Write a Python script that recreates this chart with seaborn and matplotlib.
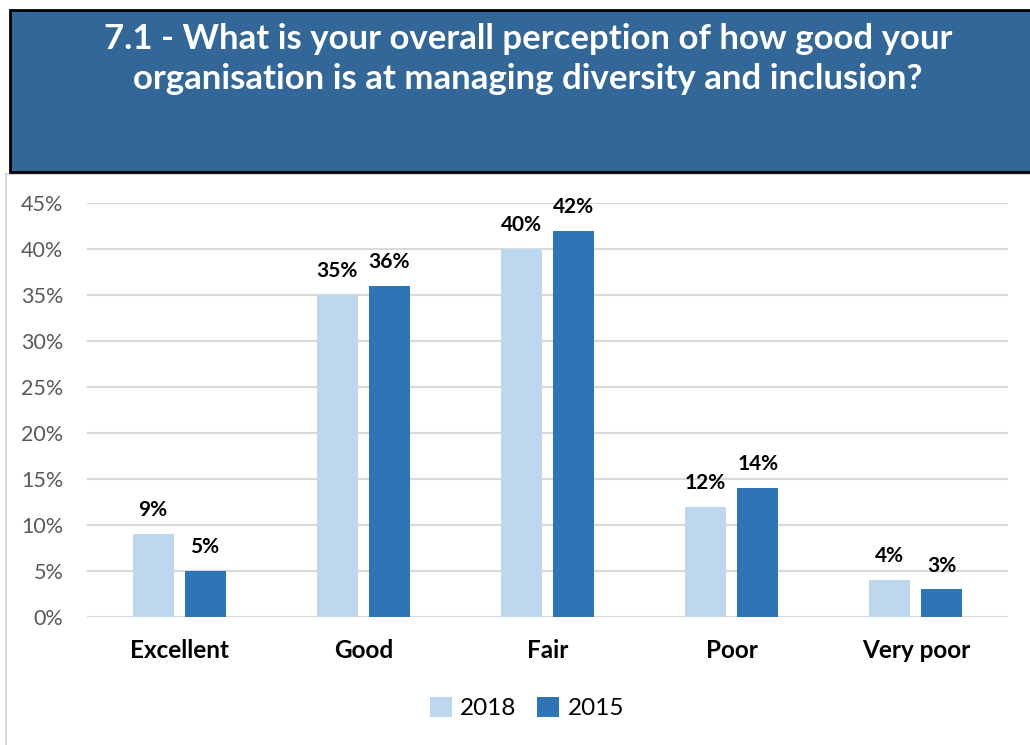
import matplotlib
matplotlib.use("Agg")
import matplotlib.pyplot as plt
import matplotlib.patches as mpatches
import seaborn as sns
import pandas as pd

categories = ["Excellent", "Good", "Fair", "Poor", "Very poor"]
years = ["2018", "2015"]
values_2018 = [9, 35, 40, 12, 4]
values_2015 = [5, 36, 42, 14, 3]
y_ticks = [0, 5, 10, 15, 20, 25, 30, 35, 40, 45]
title_text = ("7.1 - What is your overall perception of how good your\n"
              "organisation is at managing diversity and inclusion?")

df = pd.DataFrame({
    "category": categories * 2,
    "year": [years[0]] * len(categories) + [years[1]] * len(categories),
    "value": values_2018 + values_2015,
})

sns.set_theme(style="white")
plt.rcParams["font.family"] = ["Lato", "DejaVu Sans"]

W, H = 1030, 745
fig = plt.figure(figsize=(W / 100, H / 100), dpi=100)

# outer chart frame
fig.patches.append(mpatches.Rectangle((6 / W, -0.05), 1.1, (H - 174) / H + 0.05,
                                      transform=fig.transFigure, facecolor="white",
                                      edgecolor="#D9D9D9", linewidth=1.5, zorder=0))
# title banner
fig.patches.append(mpatches.Rectangle((10 / W, (H - 172) / H), 1.1, 162 / H,
                                      transform=fig.transFigure, facecolor="#336797",
                                      edgecolor="black", linewidth=2, zorder=1))
fig.text(528 / W, (H - 59) / H, title_text, ha="center", va="center", color="white",
         fontsize=25, fontweight="bold", linespacing=1.3)

ax = fig.add_axes([87 / W, (H - 617) / H, 921 / W, 414 / H])
ax.set_zorder(5)
palette = {"2018": "#BDD7EE", "2015": "#2E75B6"}
sns.barplot(data=df, x="category", y="value", hue="year", order=categories,
            hue_order=years, palette=palette, width=0.565, gap=0.21,
            saturation=1, linewidth=0, edgecolor="none", ax=ax, zorder=3)

for c in ax.containers:
    ax.bar_label(c, labels=[f"{v:.0f}%" for v in c.datavalues], padding=10,
                 fontsize=15, fontweight="bold", color="black")

ax.set_ylim(0, 45)
ax.set_xlim(-0.5, 4.5)
ax.set_yticks(y_ticks)
ax.set_yticklabels([f"{t}%" for t in y_ticks], fontsize=15.5, color="#595959")
ax.tick_params(axis="y", length=0, pad=17)
ax.tick_params(axis="x", length=0, pad=16, labelsize=17.5)
for lbl in ax.get_xticklabels():
    lbl.set_fontweight("bold")
    lbl.set_color("black")
ax.yaxis.grid(True, color="#D9D9D9", linewidth=1.5, zorder=0)
ax.set_axisbelow(True)
for s in ax.spines.values():
    s.set_visible(False)
ax.set_xlabel("")
ax.set_ylabel("")
ax.patch.set_alpha(0)

handles, labels = ax.get_legend_handles_labels()
ax.get_legend().remove()
leg = fig.legend(handles, labels, loc="center", bbox_to_anchor=(527 / W, (H - 708) / H),
                 ncol=2, frameon=False, fontsize=17.5, handlelength=0.9, handleheight=0.9,
                 handletextpad=0.35, columnspacing=0.85)
for t in leg.get_texts():
    t.set_color("black")

fig.savefig("out.png", dpi=100)
